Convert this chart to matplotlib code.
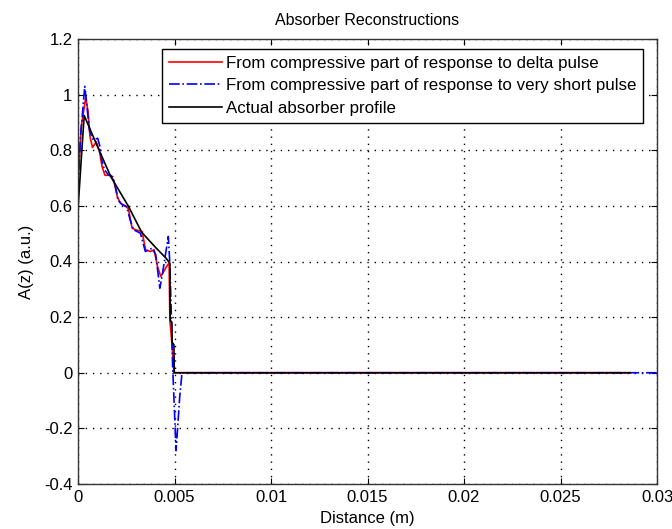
import matplotlib
matplotlib.use("Agg")
import matplotlib.pyplot as plt

plt.rcParams['font.family'] = ['Liberation Sans', 'DejaVu Sans']

# Actual absorber profile
actual_x = [0, 0.00032, 0.0010, 0.0017, 0.0026, 0.0033, 0.0040, 0.00456, 0.00476,
            0.00478, 0.00486, 0.00488, 0.00497, 0.00499, 0.0286]
actual_y = [0.59, 0.925, 0.815, 0.705, 0.600, 0.505, 0.452, 0.412, 0.394,
            0.19, 0.18, 0.11, 0.10, 0.0, 0.0]

# Reconstruction from compressive part of response to delta pulse
delta_x = [0, 0.00017, 0.0004, 0.00052, 0.00062, 0.00075, 0.00095, 0.0011, 0.00125,
           0.0014, 0.0017, 0.00185, 0.00205, 0.0022, 0.00243, 0.00261, 0.0028,
           0.00298, 0.00332, 0.0035, 0.00376, 0.00394, 0.00412, 0.00429, 0.00459,
           0.00472, 0.00476, 0.00486, 0.00497, 0.0286]
delta_y = [0.68, 0.885, 0.99, 0.94, 0.85, 0.81, 0.83, 0.80, 0.74,
           0.71, 0.71, 0.69, 0.63, 0.61, 0.60, 0.59, 0.52,
           0.514, 0.508, 0.442, 0.436, 0.442, 0.382, 0.346, 0.382,
           0.395, 0.19, 0.11, 0.0, 0.0]

# Reconstruction from compressive part of response to very short pulse
short_x = [0, 0.00013, 0.00035, 0.00043, 0.00052, 0.0006, 0.00079, 0.00102, 0.00114,
           0.00123, 0.00137, 0.00158, 0.0018, 0.00194, 0.00208, 0.00229, 0.00252,
           0.0027, 0.00288, 0.00323, 0.00349, 0.00385, 0.00403, 0.00424, 0.00438,
           0.00468, 0.00476, 0.00486, 0.00490, 0.00508, 0.00518, 0.00527, 0.00539, 0.03]
short_y = [0.665, 0.85, 1.03, 0.98, 0.92, 0.87, 0.837, 0.843, 0.813,
           0.765, 0.73, 0.711, 0.705, 0.67, 0.62, 0.604, 0.598,
           0.55, 0.514, 0.502, 0.436, 0.448, 0.424, 0.304, 0.358,
           0.49, 0.39, 0.15, 0.03, -0.28, -0.18, -0.086, 0.0, 0.0]

xticks = [0, 0.005, 0.01, 0.015, 0.02, 0.025, 0.03]
xticklabels = ['0', '0.005', '0.01', '0.015', '0.02', '0.025', '0.03']
yticks = [-0.4, -0.2, 0, 0.2, 0.4, 0.6, 0.8, 1.0, 1.2]
yticklabels = ['-0.4', '-0.2', '0', '0.2', '0.4', '0.6', '0.8', '1', '1.2']

fig = plt.figure(figsize=(6.72, 5.29), dpi=100)
ax = fig.add_axes([78/672, 1-484/529, (657-78)/672, (484-39)/529])

ax.plot(delta_x, delta_y, color='#ff0000', lw=1.2,
        label='From compressive part of response to delta pulse')
ax.plot(short_x, short_y, color='#0000ff', lw=1.2, linestyle='-.',
        label='From compressive part of response to very short pulse')
ax.plot(actual_x, actual_y, color='black', lw=1.2,
        label='Actual absorber profile')

ax.set_xlim(0, 0.03)
ax.set_ylim(-0.4, 1.2)
ax.set_xticks(xticks)
ax.set_xticklabels(xticklabels)
ax.set_yticks(yticks)
ax.set_yticklabels(yticklabels)

ax.grid(True, color='black', linestyle=(0, (1, 4.2)), linewidth=1.0)
ax.tick_params(direction='in', length=4, top=True, right=True, labelsize=12,
               width=0.8, pad=4)
for s in ax.spines.values():
    s.set_linewidth(1.0)
    s.set_color('#333333')

ax.set_title('Absorber Reconstructions', fontsize=11.5, pad=10)
ax.set_xlabel('Distance (m)', fontsize=12, labelpad=5)
ax.set_ylabel('A(z) (a.u.)', fontsize=12, labelpad=7)

leg = ax.legend(loc='upper right', bbox_to_anchor=(0.976, 0.978), fontsize=12.2,
                fancybox=False, edgecolor='black', framealpha=1,
                handlelength=3.1, handletextpad=0.25, labelspacing=0.45,
                borderpad=0.4, borderaxespad=0)
leg.get_frame().set_linewidth(1.0)

fig.savefig('out.png', dpi=100)
